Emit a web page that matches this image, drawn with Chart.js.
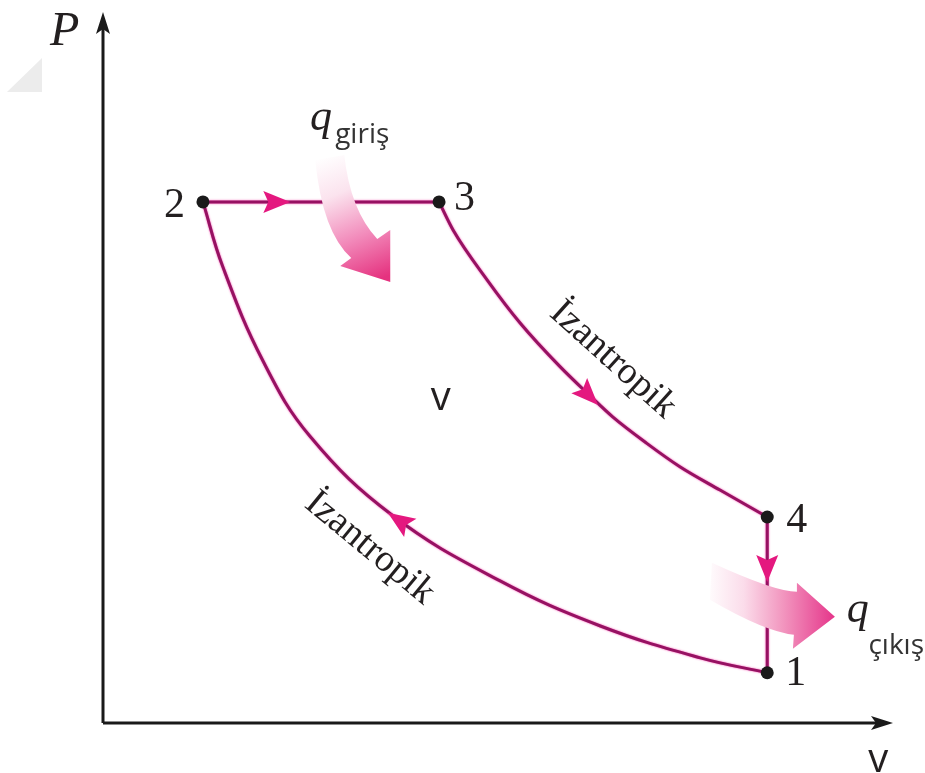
<!DOCTYPE html>
<html>
<head>
<meta charset="utf-8">
<script src="https://cdn.jsdelivr.net/npm/chart.js"></script>
<style>
  html, body { margin: 0; padding: 0; background: #fff; }
  canvas { display: block; }
</style>
</head>
<body>
<canvas id="chart" width="925" height="773"></canvas>
<script>
    // ▼ state points 1-2-3-4 (v, P)
    const stateNames = ['1', '2', '3', '4'];
    const stateV = [8.44, 1.27, 4.27, 8.44];
    const stateP = [0.71, 7.36, 7.36, 2.91];

    // ▼ isentropic compression 1 -> 2 (sorted by v)
    const compV = [1.27, 1.52, 2.03, 2.63, 3.68, 5.04, 6.32, 7.59, 8.44];
    const compP = [7.36, 6.45, 5.12, 4.05, 2.93, 2.01, 1.37, 0.92, 0.71];

    // ▼ isentropic expansion 3 -> 4
    const expV = [4.27, 4.45, 4.88, 5.30, 5.81, 6.19, 6.48, 6.91, 7.33, 7.84, 8.44];
    const expP = [7.36, 6.96, 6.26, 5.65, 5.03, 4.62, 4.32, 3.95, 3.62, 3.29, 2.91];

    const pts = (xs, ys) => xs.map((x, i) => ({ x, y: ys[i] }));
    const state = i => ({ x: stateV[i], y: stateP[i] });

    const LINE = '#961262';
    const HEAD = '#e4187f';
    const INK = '#231f20';

    // ▼ flow direction arrowheads: tail -> tip, in (v, P)
    const flowArrows = [
        { from: [2.03, 7.36], to: [2.38, 7.36] },
        { from: [6.02, 4.80], to: [6.29, 4.49] },
        { from: [8.44, 2.40], to: [8.44, 1.99] },
        { from: [3.94, 2.73], to: [3.62, 2.97] }
    ];

    function drawHeatArrow(ctx, tx, ty, shape, grad) {
        const p = ([dx, dy]) => [tx + dx, ty + dy];
        ctx.save();
        ctx.beginPath();
        const s = shape;
        ctx.moveTo(...p(s.bodyA));
        ctx.quadraticCurveTo(...p(s.ctrlA), ...p(s.endA));
        ctx.lineTo(...p(s.cornerA));
        ctx.lineTo(tx, ty);
        ctx.lineTo(...p(s.cornerB));
        ctx.lineTo(...p(s.endB));
        ctx.quadraticCurveTo(...p(s.ctrlB), ...p(s.bodyB));
        ctx.closePath();
        ctx.fillStyle = grad;
        ctx.fill();
        ctx.restore();
    }

    const diagram = {
        id: 'diagram',
        beforeDatasetsDraw(chart) {
            const { ctx, scales: { x, y } } = chart;
            const x0 = x.getPixelForValue(0), y0 = y.getPixelForValue(0);
            ctx.save();
            // faint corner mark
            ctx.fillStyle = '#ececec';
            ctx.beginPath();
            ctx.moveTo(7, 92); ctx.lineTo(42, 58); ctx.lineTo(42, 92); ctx.closePath();
            ctx.fill();

            // axes with arrows
            ctx.strokeStyle = '#1a1a1a';
            ctx.fillStyle = '#1a1a1a';
            ctx.lineWidth = 3;
            ctx.beginPath();
            ctx.moveTo(x0, y0); ctx.lineTo(x0, chart.chartArea.top + 12);
            ctx.moveTo(x0, y0); ctx.lineTo(chart.chartArea.right - 10, y0);
            ctx.stroke();
            const topY = chart.chartArea.top - 3;
            ctx.beginPath();
            ctx.moveTo(x0, topY); ctx.lineTo(x0 + 7, topY + 22); ctx.lineTo(x0, topY + 17); ctx.lineTo(x0 - 7, topY + 22);
            ctx.closePath(); ctx.fill();
            const rx = chart.chartArea.right + 3;
            ctx.beginPath();
            ctx.moveTo(rx, y0); ctx.lineTo(rx - 22, y0 - 7); ctx.lineTo(rx - 17, y0); ctx.lineTo(rx - 22, y0 + 7);
            ctx.closePath(); ctx.fill();
            ctx.restore();
        },
        beforeDatasetDraw(chart, args) {
            if (!args.meta._dataset.glow) return;
            const ctx = chart.ctx;
            ctx.save();
            ctx.shadowColor = 'rgba(245, 50, 165, 0.9)';
            ctx.shadowBlur = 2;
        },
        afterDatasetDraw(chart, args) {
            if (!args.meta._dataset.glow) return;
            chart.ctx.restore();
        },
        afterDatasetsDraw(chart) {
            const { ctx, scales: { x, y } } = chart;
            const px = v => x.getPixelForValue(v);
            const py = p => y.getPixelForValue(p);

            // heat in arrow
            let tx = px(3.65), ty = py(6.23);
            let g = ctx.createLinearGradient(tx - 57, ty - 130, tx - 5, ty - 5);
            g.addColorStop(0, '#ffffff');
            g.addColorStop(0.3, '#fbe3ee');
            g.addColorStop(0.65, '#f28bbb');
            g.addColorStop(1, '#e5327f');
            drawHeatArrow(ctx, tx, ty, {
                bodyA: [-75, -122], ctrlA: [-68, -50], endA: [-39, -24], cornerA: [-50, -16],
                cornerB: [0, -52], endB: [-13, -43], ctrlB: [-40, -72], bodyB: [-46, -127]
            }, g);

            // heat out arrow
            tx = px(9.30); ty = py(1.50);
            g = ctx.createLinearGradient(tx - 130, ty, tx, ty);
            g.addColorStop(0, '#ffffff');
            g.addColorStop(0.3, '#fbdcea');
            g.addColorStop(0.6, '#f296bf');
            g.addColorStop(1, '#e5358a');
            drawHeatArrow(ctx, tx, ty, {
                bodyA: [-123, -54], ctrlA: [-60, -25], endA: [-38, -25], cornerA: [-38, -34],
                cornerB: [-42, 32], endB: [-41, 18], ctrlB: [-70, 15], bodyB: [-125, -17]
            }, g);

            // flow arrowheads
            ctx.save();
            ctx.fillStyle = HEAD;
            flowArrows.forEach(a => {
                const x1 = px(a.from[0]), y1 = py(a.from[1]);
                const x2 = px(a.to[0]), y2 = py(a.to[1]);
                const len = Math.hypot(x2 - x1, y2 - y1);
                const ux = (x2 - x1) / len, uy = (y2 - y1) / len;
                const L = 27, W = 11;
                const bx = x2 - ux * L, by = y2 - uy * L;
                ctx.beginPath();
                ctx.moveTo(x2, y2);
                ctx.lineTo(bx - uy * W, by + ux * W);
                ctx.lineTo(bx + ux * 5, by + uy * 5);
                ctx.lineTo(bx + uy * W, by - ux * W);
                ctx.closePath();
                ctx.fill();
            });
            ctx.restore();

            // texts
            ctx.save();
            ctx.fillStyle = INK;
            ctx.textBaseline = 'alphabetic';

            // state numbers
            ctx.font = '42px "Liberation Serif"';
            ctx.textAlign = 'right';
            ctx.fillText(stateNames[1], px(stateV[1]) - 18, py(stateP[1]) + 15);
            ctx.textAlign = 'left';
            ctx.fillText(stateNames[2], px(stateV[2]) + 15, py(stateP[2]) + 8);
            ctx.fillText(stateNames[3], px(stateV[3]) + 19, py(stateP[3]) + 15);
            ctx.fillText(stateNames[0], px(stateV[0]) + 18, py(stateP[0]) + 12);

            // axis names
            ctx.font = 'italic 48px "Liberation Serif"';
            ctx.fillText('P', 50, 45);
            ctx.font = '40px "Open Sans"';
            ctx.textAlign = 'center';
            ctx.fillText('v', px(9.85), 772);
            ctx.fillText('v', px(4.29), py(4.42));

            // heat labels
            ctx.textAlign = 'left';
            ctx.font = 'italic 44px "Liberation Serif"';
            ctx.fillText('q', px(2.63), py(8.37));
            ctx.fillText('q', px(9.45), py(1.43));
            ctx.fillStyle = '#333';
            ctx.font = '28px "Open Sans"';
            ctx.fillText('giriş', px(2.95), py(8.19));
            ctx.textAlign = 'right';
            ctx.fillText('çıkış', 924, py(0.98));

            // process labels
            ctx.fillStyle = INK;
            ctx.font = '38px "Liberation Serif"';
            ctx.textAlign = 'center';
            ctx.textBaseline = 'middle';
            [[6.48, 5.13, 42], [3.39, 2.47, 39.5]].forEach(([v, p, deg]) => {
                ctx.save();
                ctx.translate(px(v), py(p));
                ctx.rotate(deg * Math.PI / 180);
                ctx.fillText('İzantropik', 0, 0);
                ctx.restore();
            });
            ctx.restore();
        }
    };

    const chart = new Chart(document.getElementById('chart').getContext('2d'), {
        type: 'scatter',
        data: {
            datasets: [
                { data: pts(compV, compP), showLine: true, tension: 0.4, glow: true },
                { data: [state(1), state(2)], showLine: true, glow: true },
                { data: pts(expV, expP), showLine: true, cubicInterpolationMode: 'monotone', glow: true },
                { data: [state(3), state(0)], showLine: true, glow: true },
                { data: stateV.map((v, i) => state(i)), order: -1, pointRadius: 6.5, backgroundColor: '#1a1a1a', borderWidth: 0 }
            ].map((d, i) => i < 4 ? Object.assign({ borderColor: LINE, borderWidth: 3, pointRadius: 0 }, d) : d)
        },
        options: {
            responsive: false,
            animation: false,
            events: [],
            layout: { padding: { left: 103, right: 35, top: 15, bottom: 50 } },
            scales: {
                x: { type: 'linear', min: 0, max: 10, display: false },
                y: { type: 'linear', min: 0, max: 10, display: false }
            },
            plugins: { legend: { display: false }, tooltip: { enabled: false } }
        },
        plugins: [diagram]
    });
</script>
</body>
</html>
